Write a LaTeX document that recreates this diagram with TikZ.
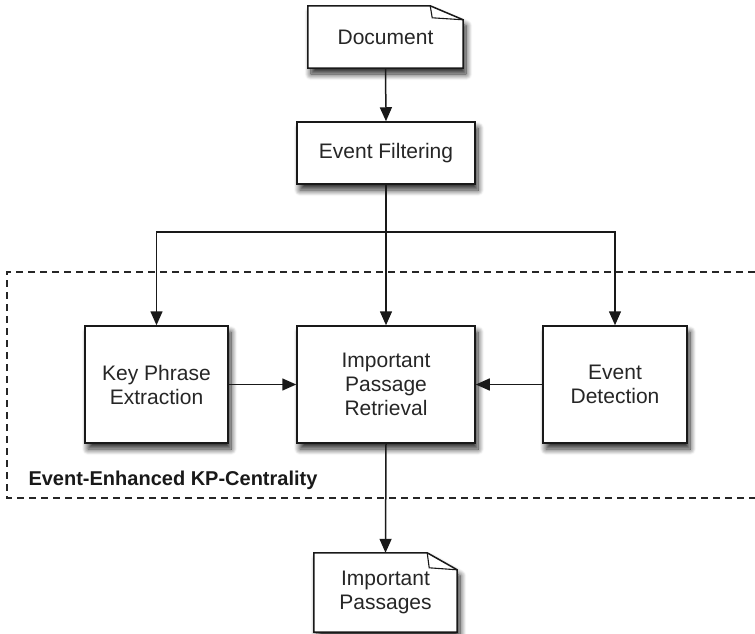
\documentclass[tikz,border=0pt]{standalone}
\usepackage{fontspec}
\setmainfont{Liberation Sans}
\usetikzlibrary{arrows.meta,shadows.blur}
\pgfdeclarelayer{background}
\pgfsetlayers{background,main}
\tikzset{
  myshadow/.style={blur shadow={shadow xshift=3pt, shadow yshift=-6pt, shadow blur radius=6pt, shadow blur steps=12, shadow opacity=85}},
  boxstyle/.style={draw=black!90, line width=1.5pt, fill=white, align=center,
    font=\fontsize{21}{24}\selectfont, text=black!85, myshadow},
  docnode/.style={align=center, font=\fontsize{21}{24}\selectfont, text=black!85},
  docshape/.style={draw=black!90, line width=1.5pt, fill=white, myshadow},
  conn/.style={draw=black!90, line width=1.5pt, -{Triangle[length=14pt,width=12pt]}},
  plain/.style={draw=black!90, line width=1.5pt},
  frame/.style={draw=black!85, line width=1.3pt, dash pattern=on 7pt off 5pt}
}
\begin{document}
\begin{tikzpicture}[x=1pt,y=-1pt]
\useasboundingbox (0,0) rectangle (755,634);
% nodes
\node[docnode, minimum width=155pt, minimum height=62pt] (doc) at (385.5,37) {Document};
\node[boxstyle, minimum width=178pt, minimum height=62pt] (filt) at (386,153) {Event Filtering};
\node[boxstyle, minimum width=143pt, minimum height=117pt] (kp) at (156.5,384.5) {Key Phrase\\Extraction};
\node[boxstyle, minimum width=178pt, minimum height=117pt] (ipr) at (386,384.5) {Important\\Passage\\Retrieval};
\node[boxstyle, minimum width=144pt, minimum height=117pt] (ed) at (615,384.5) {Event\\Detection};
\node[docnode, minimum width=143pt, minimum height=79pt] (ip) at (385.5,592.5) {Important\\Passages};
\node[anchor=base west, font=\fontsize{20}{22}\selectfont\bfseries, text=black!90] (lbl) at (25,485) {Event-Enhanced KP-Centrality};
\begin{pgfonlayer}{background}
  \draw[frame] (755,272) -- (7,272) -- (7,498) -- (755,498);
  \path[docshape] (doc.south west) -- (doc.north west) -- ([xshift=-33pt]doc.north east)
     -- ([yshift=-14pt]doc.north east) -- (doc.south east) -- cycle;
  \draw[plain, line width=1.1pt] ([xshift=-33pt]doc.north east) -- ([xshift=-31pt,yshift=-12pt]doc.north east) -- ([yshift=-14pt]doc.north east);
  \path[docshape] (ip.south west) -- (ip.north west) -- ([xshift=-30pt]ip.north east)
     -- ([yshift=-17pt]ip.north east) -- (ip.south east) -- cycle;
  \draw[plain, line width=1.1pt] ([xshift=-30pt]ip.north east) -- ([xshift=-28pt,yshift=-15pt]ip.north east) -- ([yshift=-17pt]ip.north east);
\end{pgfonlayer}
% connectors
\coordinate (split) at (386,232);
\draw[conn] (doc.south) -- (filt.north);
\draw[conn] (filt.south) -- (ipr.north);
\draw[conn] (split) -| (kp.north);
\draw[conn] (split) -| (ed.north);
\draw[conn] (kp.east) -- (ipr.west);
\draw[conn] (ed.west) -- (ipr.east);
\draw[conn] (ipr.south) -- (ip.north);
\end{tikzpicture}
\end{document}
